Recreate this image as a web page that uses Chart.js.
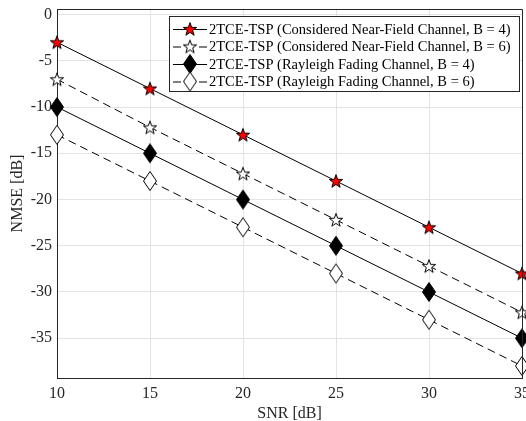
<!DOCTYPE html>
<html>
<head>
<meta charset="utf-8">
<script src="https://cdn.jsdelivr.net/npm/chart.js@4"></script>
<style>
html,body{margin:0;padding:0;background:#fff;overflow:hidden;}
canvas{display:block;}
</style>
</head>
<body>
<canvas id="grafico" width="531" height="421"></canvas>
<script>
// dati
var snr = [10, 15, 20, 25, 30, 35];
var nfB4 = [-3, -8, -13, -18, -23, -28];
var nfB6 = [-7, -12.2, -17.2, -22.2, -27.2, -32.2];
var rayB4 = [-10, -15, -20, -25, -30, -35];
var rayB6 = [-13, -18, -23, -28, -33, -38];
var nomi = [
    "2TCE-TSP (Considered Near-Field Channel, B = 4)",
    "2TCE-TSP (Considered Near-Field Channel, B = 6)",
    "2TCE-TSP (Rayleigh Fading Channel, B = 4)",
    "2TCE-TSP (Rayleigh Fading Channel, B = 6)"
];

var font = "'Liberation Serif', 'Times New Roman', serif";
var axisCol = "#262626";

//stella a 5 punte come marker
function stella(fill){
    var c = document.createElement("canvas");
    c.width = 18; c.height = 18;
    var ctx = c.getContext("2d");
    var R = 7, r = 2.8;
    ctx.beginPath();
    for(var i=0;i<10;i++){
        var rad = (i%2==0) ? R : r;
        var a = -Math.PI/2 + i*Math.PI/5;
        var x = 9 + rad*Math.cos(a), y = 9.6 + rad*Math.sin(a);
        if(i==0) ctx.moveTo(x,y); else ctx.lineTo(x,y);
    }
    ctx.closePath();
    ctx.fillStyle = fill;
    ctx.fill();
    ctx.lineWidth = 1;
    ctx.strokeStyle = "#000";
    ctx.stroke();
    return c;
}

//rombo come marker
function rombo(fill){
    var c = document.createElement("canvas");
    c.width = 16; c.height = 22;
    var ctx = c.getContext("2d");
    ctx.beginPath();
    ctx.moveTo(8,1.5); ctx.lineTo(14.5,11); ctx.lineTo(8,20.5); ctx.lineTo(1.5,11);
    ctx.closePath();
    ctx.fillStyle = fill;
    ctx.fill();
    ctx.lineWidth = 1;
    ctx.strokeStyle = "#000";
    ctx.stroke();
    return c;
}

var marker = [stella("#ff0000"), stella("#ffffff"), rombo("#000000"), rombo("#ffffff")];
var valori = [nfB4, nfB6, rayB4, rayB6];
var tratti = [[], [8,5], [], [8,5]];

function punti(v){
    return snr.map(function(x,i){ return {x:x, y:v[i]}; });
}

var datasets = [];
for(var k=0;k<4;k++){
    datasets.push({
        label: nomi[k],
        data: punti(valori[k]),
        borderColor: "#000",
        borderWidth: 1,
        borderDash: tratti[k],
        pointStyle: marker[k],
        pointRadius: 8,
        clip: false,
        fill: false,
        tension: 0
    });
}

//box e legenda in stile matlab
var boxPlugin = {
    id: "box",
    afterDraw: function(chart){
        var ctx = chart.ctx, a = chart.chartArea;
        ctx.save();
        ctx.strokeStyle = axisCol;
        ctx.lineWidth = 1;
        ctx.beginPath();
        ctx.moveTo(a.left, a.top + 0.5);
        ctx.lineTo(a.right + 0.5, a.top + 0.5);
        ctx.lineTo(a.right + 0.5, a.bottom);
        ctx.stroke();

        // legenda
        var lx = 169.5, ly = 16.5, lw = 350, lh = 75;
        ctx.fillStyle = "#fff";
        ctx.fillRect(lx, ly, lw, lh);
        ctx.strokeStyle = axisCol;
        ctx.strokeRect(lx, ly, lw, lh);
        ctx.font = "14.5px " + font;
        ctx.textBaseline = "middle";
        chart.data.datasets.forEach(function(d, i){
            var y = 29 + i*17.5;
            ctx.strokeStyle = "#000";
            ctx.setLineDash(d.borderDash);
            ctx.beginPath();
            ctx.moveTo(173, y + 0.5);
            ctx.lineTo(207, y + 0.5);
            ctx.stroke();
            ctx.setLineDash([]);
            var img = d.pointStyle;
            ctx.drawImage(img, 190 - img.width/2, y - img.height/2);
            ctx.fillStyle = "#000";
            ctx.fillText(d.label, 209, y + 1);
        });
        ctx.restore();
    }
};

new Chart(document.getElementById("grafico").getContext("2d"), {
    type: "line",
    data: { datasets: datasets },
    options: {
        responsive: false,
        devicePixelRatio: 1,
        animation: false,
        events: [],
        layout: { padding: { top: 9, right: 0, left: 0, bottom: 0 } },
        plugins: {
            legend: { display: false },
            tooltip: { enabled: false },
            title: { display: false }
        },
        scales: {
            x: {
                type: "linear",
                min: 10, max: 35,
                border: { color: axisCol, width: 1 },
                grid: { color: "#e3e3e3", drawTicks: false },
                ticks: { stepSize: 5, padding: 6, color: axisCol, font: { family: font, size: 16 }, maxRotation: 0 },
                title: { display: true, text: "SNR [dB]", color: axisCol, font: { family: font, size: 16 }, padding: { top: 0, bottom: -2 } },
                afterFit: function(s){ s.height = 43; s.paddingRight = 0; s.paddingLeft = 0; }
            },
            y: {
                min: -39.3, max: 0.6,
                border: { color: axisCol, width: 1 },
                grid: { color: "#e3e3e3", drawTicks: false },
                ticks: { stepSize: 5, includeBounds: false, padding: 5, color: axisCol, font: { family: font, size: 16 } },
                title: { display: true, text: "NMSE [dB]", color: axisCol, font: { family: font, size: 16 }, padding: { top: 8, bottom: 0 } },
                afterFit: function(s){ s.width = 57; s.paddingTop = 0; s.paddingBottom = 0; }
            }
        }
    },
    plugins: [boxPlugin]
});
</script>
</body>
</html>
